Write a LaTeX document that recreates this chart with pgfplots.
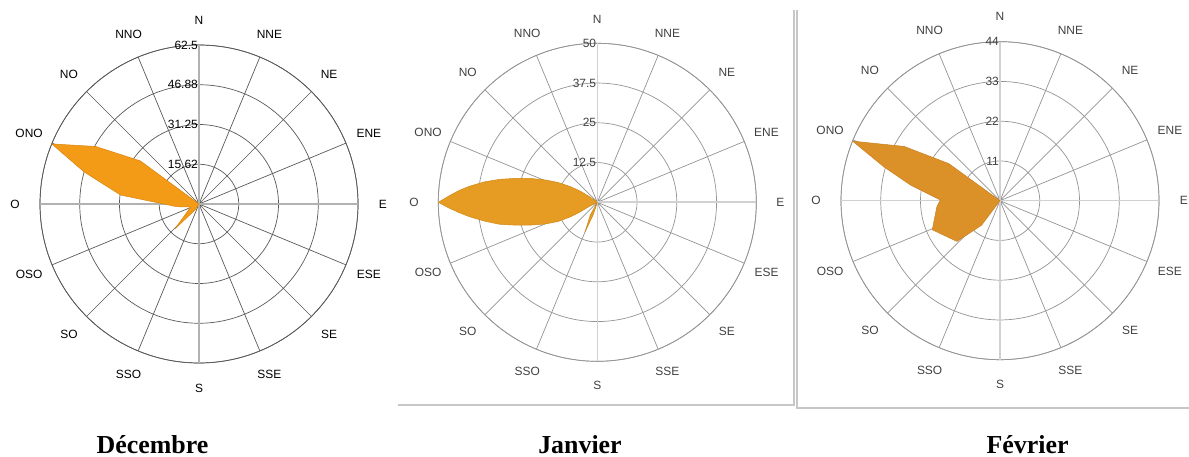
\documentclass[border=0pt]{standalone}
\usepackage{fontspec}
\setmainfont{Liberation Serif}
\newfontfamily\lsans{Liberation Sans}
\usepackage{pgfplots}
\usepgfplotslibrary{polar}
\pgfplotsset{compat=1.18}

\definecolor{decfill}{HTML}{F39A17}
\definecolor{decedge}{HTML}{D98510}
\definecolor{janfill}{HTML}{E69B22}
\definecolor{janedge}{HTML}{D08A18}
\definecolor{febfill}{HTML}{DC9128}
\definecolor{febedge}{HTML}{C98020}

\tikzset{lab/.style={font=\lsans\fontsize{12}{14}\selectfont, inner sep=1bp}}

\newcommand\roselabels[2]{%
  \node[lab,text=#2] at (axis cs:90,#1) {N};
  \node[lab,text=#2] at (axis cs:67.5,#1) {NNE};
  \node[lab,text=#2] at (axis cs:45,#1) {NE};
  \node[lab,text=#2] at (axis cs:22.5,#1) {ENE};
  \node[lab,text=#2] at (axis cs:0,#1) {E};
  \node[lab,text=#2] at (axis cs:337.5,#1) {ESE};
  \node[lab,text=#2] at (axis cs:315,#1) {SE};
  \node[lab,text=#2] at (axis cs:292.5,#1) {SSE};
  \node[lab,text=#2] at (axis cs:270,#1) {S};
  \node[lab,text=#2] at (axis cs:247.5,#1) {SSO};
  \node[lab,text=#2] at (axis cs:225,#1) {SO};
  \node[lab,text=#2] at (axis cs:202.5,#1) {OSO};
  \node[lab,text=#2] at (axis cs:180,#1) {O};
  \node[lab,text=#2] at (axis cs:157.5,#1) {ONO};
  \node[lab,text=#2] at (axis cs:135,#1) {NO};
  \node[lab,text=#2] at (axis cs:112.5,#1) {NNO};
}

\pgfplotsset{
  rose/.style={
    scale only axis, width=318bp, height=318bp,
    anchor=origin,
    xmin=0, xmax=360, ymin=0,
    xtick={22.5,45,67.5,112.5,135,157.5,202.5,225,247.5,292.5,315,337.5},
    extra x ticks={0,90,180,270},
    xticklabels={}, yticklabels={}, extra x tick labels={},
    major tick length=0pt,
    grid=major,
    clip=false,
  }
}

\begin{document}
\begin{tikzpicture}
\useasboundingbox (0,0) rectangle (1189bp,457bp);

% ---------------- Decembre ----------------
\begin{polaraxis}[rose, at={(199bp,253bp)}, ymax=62.5,
  ytick={15.625,31.25,46.875,62.5},
  grid style={color=black!65, line width=0.7bp},
  axis line style={color=black!65, line width=0.7bp},
  extra x tick style={grid style={color=black!30, line width=1.6bp}}]
\addplot[fill=decfill, draw=decedge, line width=0.5bp] coordinates {
 (157.5,0) (143.7,28.6) (150.9,46.5) (157.8,62.5) (164.4,46.9)
 (173.5,31.0) (186.9,8.8) (200,3.5) (226,13.6) (238,2.5) (240,0)
} -- cycle;
\roselabels{72.3}{black}
\node[lab,anchor=east] at (axis cs:90,15.625) {15.62};
\node[lab,anchor=east] at (axis cs:90,31.25) {31.25};
\node[lab,anchor=east] at (axis cs:90,46.875) {46.88};
\node[lab,anchor=east] at (axis cs:90,62.5) {62.5};
\end{polaraxis}

% ---------------- Janvier ----------------
\begin{polaraxis}[rose, at={(597.3bp,254.7bp)}, ymax=50,
  ytick={12.5,25,37.5,50},
  grid style={color=black!42, line width=0.7bp},
  axis line style={color=black!42, line width=0.7bp},
  extra x tick style={grid style={color=black!18, line width=1.6bp}}]
\addplot[fill=janfill, draw=janedge, line width=0.5bp] coordinates {
 (144,0) (144,2.85) (146.8,6.5) (150,10.0) (153.3,13.9) (156.9,18.0)
 (160.5,22.6) (163.9,27.1) (166.8,31.6) (169.75,36.1) (172.9,40.6)
 (175.1,43.6) (177.55,46.7) (180,50)
 (182.2,46.7) (184.25,43.6) (186.4,40.5) (189.45,36.0) (192.6,31.6)
 (195.4,27.0) (198.6,22.5) (202.5,17.9) (206,13.8) (208.3,9.8)
 (209.3,6.3) (206.9,2.6) (210,0)
 (241,4.5) (247.5,10.1) (252,4) (252,0)
} -- cycle;
\roselabels{57.6}{black!75}
\node[lab,anchor=east,text=black!75] at (axis cs:90,12.5) {12.5};
\node[lab,anchor=east,text=black!75] at (axis cs:90,25) {25};
\node[lab,anchor=east,text=black!75] at (axis cs:90,37.5) {37.5};
\node[lab,anchor=east,text=black!75] at (axis cs:90,50) {50};
\end{polaraxis}

% ---------------- Fevrier ----------------
\begin{polaraxis}[rose, at={(1000bp,256.3bp)}, ymax=44,
  ytick={11,22,33,44},
  grid style={color=black!42, line width=0.7bp},
  axis line style={color=black!42, line width=0.7bp},
  extra x tick style={grid style={color=black!18, line width=1.6bp}}]
\addplot[fill=febfill, draw=febedge, line width=0.5bp] coordinates {
 (144,0) (144.1,17.5) (150.5,30.5) (158,44) (163.8,33.4) (170.1,25.1)
 (179.3,16.5) (185,17.5) (203.2,20.4) (223.4,16.4) (233,8.5) (233,0)
} -- cycle;
\roselabels{50.9}{black!75}
\node[lab,anchor=east,text=black!75] at (axis cs:90,11) {11};
\node[lab,anchor=east,text=black!75] at (axis cs:90,22) {22};
\node[lab,anchor=east,text=black!75] at (axis cs:90,33) {33};
\node[lab,anchor=east,text=black!75] at (axis cs:90,44) {44};
\end{polaraxis}

% panel frames
\draw[color=black!22, line width=1.5bp] (398bp,52bp) -- (794bp,52bp) -- (794bp,447bp);
\draw[color=black!22, line width=1.5bp] (1189bp,49bp) -- (797bp,49bp) -- (797bp,447bp);

% titles
\node[anchor=base, inner sep=0pt, font=\rmfamily\bfseries\fontsize{26}{30}\selectfont] at (152.5bp,4bp) {Décembre};
\node[anchor=base, inner sep=0pt, font=\rmfamily\bfseries\fontsize{26}{30}\selectfont] at (580bp,4bp) {Janvier};
\node[anchor=base, inner sep=0pt, font=\rmfamily\bfseries\fontsize{26}{30}\selectfont] at (1027.5bp,4bp) {Février};
\end{tikzpicture}
\end{document}
